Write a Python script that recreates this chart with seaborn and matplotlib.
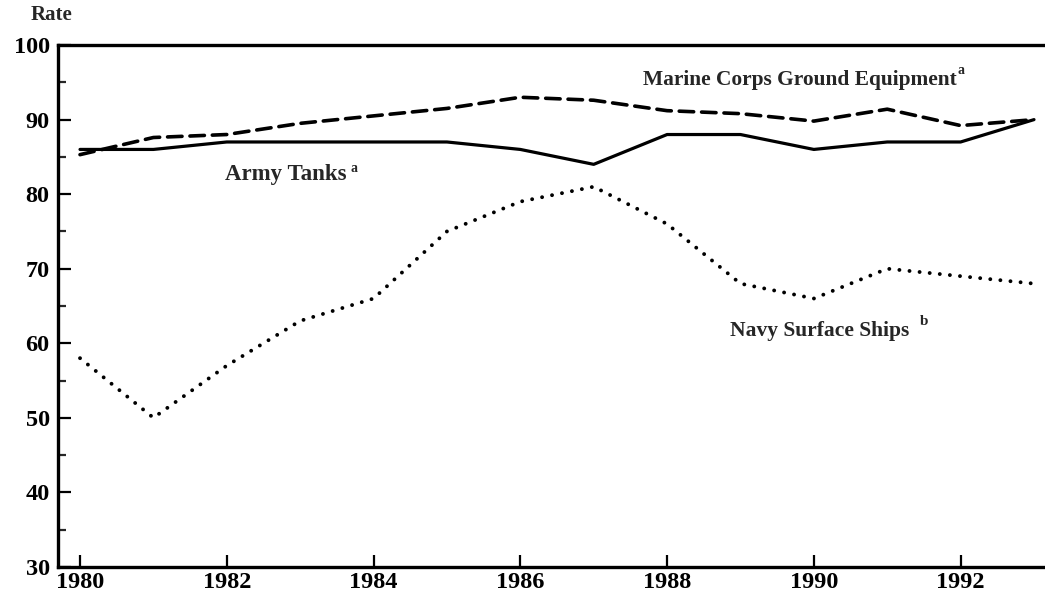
#!/usr/bin/env python3
# -*- coding: utf-8 -*-

"""
Readiness rates of army tanks, marine ground equipment and navy ships, 1980-1993.
"""

import matplotlib
matplotlib.use("Agg")
import matplotlib.pyplot as plt
import seaborn as sns
import pandas as pd
from matplotlib.ticker import MultipleLocator

years = list(range(1980, 1994))
army_tanks = [86, 86, 87, 87, 87, 87, 86, 84, 88, 88, 86, 87, 87, 90]
marine_corps = [85.3, 87.6, 88, 89.5, 90.5, 91.5, 93, 92.6, 91.2, 90.8, 89.8, 91.4, 89.2, 90]
navy_ships = [58, 50, 57, 63, 66, 75, 79, 81, 76, 68, 66, 70, 69, 68]

sns.set_style("white")
plt.rcParams["font.family"] = ["Liberation Serif", "DejaVu Serif"]
plt.rcParams["font.weight"] = "bold"

fig = plt.figure(figsize=(10.45, 6.05), dpi=100)
ax = fig.add_axes([0.0555, 0.063, 0.9445, 0.8625])

df = pd.DataFrame({"year": years, "army": army_tanks,
                   "marine": marine_corps, "navy": navy_ships})

sns.lineplot(data=df, x="year", y="army", ax=ax, color="black", lw=2.3)
sns.lineplot(data=df, x="year", y="marine", ax=ax, color="black", lw=2.6,
             dashes=(4, 2.2), dash_capstyle="round")
sns.lineplot(data=df, x="year", y="navy", ax=ax, color="black", lw=2.8,
             dashes=(0.01, 2.6), dash_capstyle="round")

ax.set_xlim(1979.7, 1993.15)
ax.set_ylim(30, 100)
ax.set_xlabel("")
ax.set_ylabel("")

ax.set_xticks(range(1980, 1994, 2))
ax.yaxis.set_major_locator(MultipleLocator(10))
ax.yaxis.set_minor_locator(MultipleLocator(5))

for side in ["left", "bottom", "top"]:
    ax.spines[side].set_linewidth(2.4)
    ax.spines[side].set_color("black")
ax.spines["right"].set_visible(False)

ax.tick_params(axis="both", which="major", direction="in", length=9, width=1.6,
               labelsize=17.5, colors="black", pad=6)
ax.tick_params(axis="y", which="minor", direction="in", length=6, width=1.6,
               left=True)
ax.tick_params(axis="y", which="major", left=True, pad=6)
ax.tick_params(axis="x", which="major", bottom=True, pad=4)
for lab in ax.get_xticklabels() + ax.get_yticklabels():
    lab.set_fontweight("bold")

# series labels
ax.text(1989.81, 95.3, "Marine Corps Ground Equipment", ha="center", va="center",
        fontsize=15.4, fontweight="bold")
ax.text(1991.96, 96.6, "a", ha="left", va="center", fontsize=10, fontweight="bold")
ax.text(1981.98, 82.6, "Army Tanks", ha="left", va="center",
        fontsize=16.5, fontweight="bold")
ax.text(1983.68, 83.5, "a", ha="left", va="center", fontsize=10, fontweight="bold")
ax.text(1988.86, 61.7, "Navy Surface Ships", ha="left", va="center",
        fontsize=15.5, fontweight="bold")
ax.text(1991.45, 62.9, "b", ha="left", va="center", fontsize=11, fontweight="bold")

fig.text(0.029, 0.975, "Rate", ha="left", va="center", fontsize=15,
         fontweight="bold")

fig.savefig("out.png", dpi=100)
